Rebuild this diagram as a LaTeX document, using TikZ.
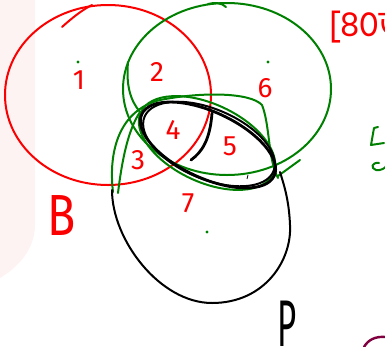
\documentclass[tikz,border=0pt]{standalone}
\usepackage{fontspec}
\setmainfont{Fira Sans}
\newfontfamily\bnfont[Script=Bengali]{Hind Siliguri}
\definecolor{pen red}{RGB}{250,0,0}
\definecolor{pen green}{RGB}{0,128,0}
\definecolor{pen maroon}{RGB}{128,0,64}
\definecolor{pale pink}{RGB}{254,243,243}
\tikzset{
  redline/.style={draw=pen red, line width=2pt, line cap=round, line join=round},
  greenline/.style={draw=pen green, line width=2pt, line cap=round, line join=round},
  blackline/.style={draw=black, line width=2pt, line cap=round, line join=round},
  thickblack/.style={draw=black, line width=2.8pt, line cap=round, line join=round},
  lbl/.style={text=pen red, font=\fontsize{28}{30}\selectfont, inner sep=0pt},
  pendot/.style={fill=pen green, draw=none},
}
\begin{document}
\begin{tikzpicture}[x=1pt,y=-1pt]
\useasboundingbox (0,0) rectangle (385,346);
% pale background panel
\fill[pale pink] (0,0) -- (35,0) -- (35,225) .. controls (35,250) and (17,268) .. (0,278) -- cycle;

% set B (red)
\draw[redline] (108,95) ellipse [x radius=103, y radius=90];
\draw[redline] (62,27) .. controls (72,18) and (82,10) .. (92,5);

% big green set
\draw[greenline] (227,89) ellipse [x radius=104, y radius=86];
\draw[greenline] (128,62) .. controls (126,85) and (130,100) .. (140,112);
\draw[greenline] (208,4) .. controls (215,2) and (222,3) .. (226,7);

% green loop around the core
\draw[greenline] (113,192) .. controls (108,150) and (120,110) .. (160,100)
   .. controls (200,92) and (250,92) .. (262,105)
   .. controls (270,125) and (268,160) .. (278,178);
\draw[greenline] (118,193) .. controls (122,160) and (128,130) .. (140,112);
\draw[greenline, rotate around={-25:(207,143)}] (207,143) ellipse [x radius=73, y radius=39];
\draw[greenline] (278,176) -- (300,160);

% set P (black)
\draw[blackline] (112,190) .. controls (112,240) and (160,303) .. (212,303)
   .. controls (265,303) and (292,260) .. (290,225)
   .. controls (289,200) and (284,185) .. (280,172);
\draw[thickblack, rotate around={-25:(208,145)}] (208,145) ellipse [x radius=73, y radius=33];
\draw[blackline, rotate around={-23:(209,144)}] (209,144) ellipse [x radius=70, y radius=35];
\draw[thickblack] (191,160) .. controls (202,152) and (210,140) .. (212,113);
\draw[draw=black, line width=0.8pt] (247,179) -- (248,175);

% region labels
\node[lbl] (n1) at (79,80) {1};
\node[lbl] (n2) at (157,72) {2};
\node[lbl] (n6) at (265,88) {6};
\node[lbl] (n4) at (173,130) {4};
\node[lbl] (n5) at (230,146) {5};
\node[lbl] (n3) at (138,160) {3};
\node[lbl] (n7) at (188,203) {7};
\node[lbl, font=\fontsize{58}{60}\selectfont, anchor=center] (nB) at (62,216) {\scalebox{0.8}[1]{B}};
\node[text=black, font=\fontsize{66}{68}\selectfont, inner sep=0pt, anchor=north] (nP) at (287,301) {\scalebox{0.5}[1]{P}};

% green dots
\fill[pendot] (78,62) circle (1.6);
\fill[pendot] (268,62) circle (1.6);
\fill[pendot] (207,232) circle (1.6);

% top-right note (cut off)
\node[text=pen red, font=\bnfont\fontsize{36}{38}\selectfont, inner sep=0pt, anchor=west] (note) at (329,27) {[80ত};

% partial green mark at right edge
\draw[greenline] (378,127) -- (374,128) -- (371,145) -- (384,143);
\draw[greenline] (379,163) .. controls (372,162) and (370,168) .. (376,170) .. controls (380,171) and (386,168) .. (386,166);

% partial maroon mark at bottom right
\draw[draw=pen maroon, line width=2.4pt, line cap=round] (364,347) .. controls (368,340) and (375,336) .. (386,337);
\end{tikzpicture}
\end{document}
